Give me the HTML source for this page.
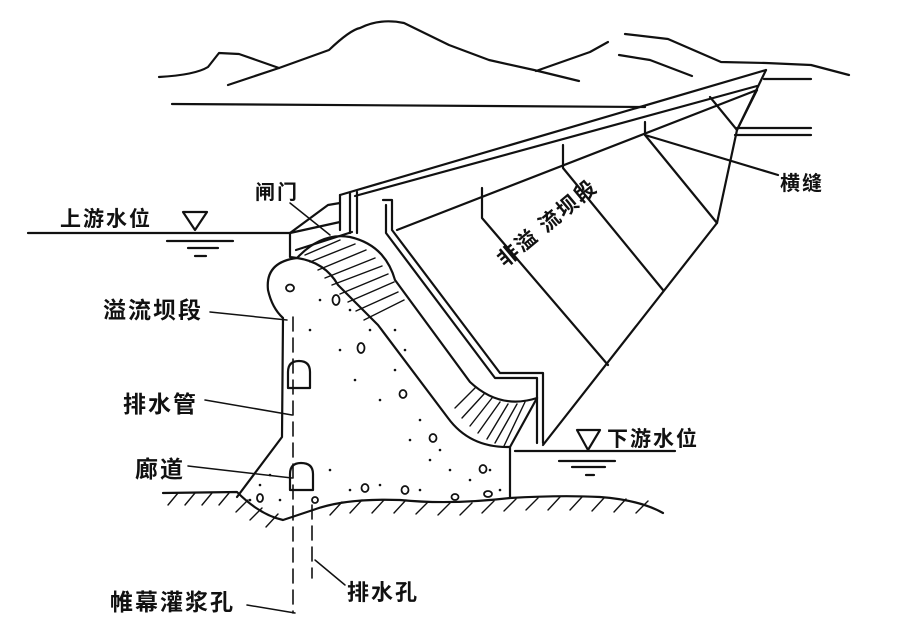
<!DOCTYPE html>
<html><head><meta charset="utf-8"><style>
html,body{margin:0;padding:0;background:#fff;}
svg{display:block}
text{font-family:"Liberation Sans","Noto Sans CJK SC",sans-serif;font-weight:bold;fill:#111;letter-spacing:2px}
</style></head><body>
<svg width="918" height="633" viewBox="0 0 918 633" xmlns="http://www.w3.org/2000/svg">
<g fill="none" stroke="#111" stroke-width="2.2" stroke-linecap="round" stroke-linejoin="round">
<path d="M159 77 Q195 75 208 67 L219 53 L239 54 L279 68"/>
<path d="M228 85 L279 68 L329 50 Q350 30 360 28 Q380 18 404 23 L449 45 L489 60 L534 70 L579 81"/>
<path d="M536 71 L590 52 L608 42"/>
<path d="M625 34 L668 39 L721 62 L766 63 L811 65 L849 75"/>
<path d="M619 55 L650 60 L692 76"/>
<path d="M172 104 L645 107"/>
<path d="M764 79 L811 79 M737 128 L811 128 M735 135 L811 135"/>
<path d="M340 195 L766 70"/>
<path d="M355 196 L757 86"/>
<path d="M397 230 L757 90"/>
<path d="M766 70 L737 130 L717 223 L543 445"/>
<path d="M757 90 L737 130"/>
<path d="M482 188 L482 218 L608 365"/>
<path d="M563 145 L563 168 L663 290"/>
<path d="M645 122 L645 135 L717 223"/>
<path d="M710 97 L737 130"/>
<path d="M645 135 L778 175"/>
<path d="M340 195 L340 230 M350 193 L350 233 M357 192 L357 233"/>
<path d="M383 200 L392 200 L392 230 L500 373 L543 373 L543 443"/>
<path d="M386 205 L386 233 L495 378 L537 378 L537 443"/>
<path d="M290 233 L290 257 L297 258"/>
<path d="M290 233 L340 222 M296 250 L352 232 M290 233 L328 205 L340 203"/>
<path d="M298 257 Q322 232 350 237 Q385 245 395 280 L470 382 Q500 410 537 398"/>
<path d="M297 258 Q325 262 338 285 L378 325 L448 418 Q470 448 510 447 L537 398"/>
<path d="M297 258 Q265 262 268 290 Q272 308 283 318 L282 437 L237 497"/>
<path d="M510 447 L510 497"/>
<g stroke-width="1.4">
<path d="M305 255 L340 240 M310 262 L355 244 M318 270 L366 250 M325 278 L375 258 M332 285 L382 266 M340 294 L388 274 M348 302 L394 282 M356 311 L398 292 M364 320 L404 300"/>
<path d="M455 408 L475 388 M462 418 L484 394 M470 426 L492 398 M478 433 L500 402 M487 439 L508 404 M495 443 L517 404 M504 446 L525 402"/>
</g>
<path d="M288 388 L288 372 Q288 361 299 361 Q310 361 310 372 L310 388 Z"/>
<path d="M290 490 L290 474 Q290 463 301 463 Q313 463 313 474 L313 490 Z"/>
<path d="M163 493 L237 492 Q260 515 283 520 L313 510 Q345 498 400 500 Q450 505 510 498 Q560 495 600 497 Q640 500 663 513"/>
<g stroke-width="1.4">
<path d="M168 505 L178 493 M185 505 L195 493 M202 505 L212 493 M219 505 L229 493 M236 512 L248 500 M250 520 L262 508 M266 527 L278 514 M330 515 L342 502 M350 513 L362 500 M372 513 L384 500 M394 513 L406 500 M416 514 L428 502 M438 515 L450 503 M460 515 L472 503 M482 513 L494 501 M504 511 L516 499 M526 510 L538 498 M548 510 L560 497 M570 510 L582 497 M592 511 L604 498 M614 512 L626 499 M636 513 L648 501"/>
</g>
<path d="M293 317 L293 613" stroke-dasharray="14 7" stroke-width="1.6"/>
<path d="M312 505 L312 578" stroke-dasharray="14 7" stroke-width="1.6"/>
<path d="M28 233 L290 233 M167 241 L233 241 M188 248 L218 248 M195 256 L206 256"/>
<path d="M183 212 L207 212 L195 230 Z"/>
<path d="M515 451 L675 451 M559 461 L615 461 M572 467 L605 467 M586 475 L594 475"/>
<path d="M577 430 L600 430 L588 450 Z"/>
<g stroke-width="1.5">
<path d="M290 203 L330 235"/>
<path d="M210 312 L287 320"/>
<path d="M205 400 L292 415"/>
<path d="M188 466 L292 478"/>
<path d="M247 605 L295 613"/>
<path d="M315 560 L345 585"/>
</g>
</g>
<g fill="#111">
<circle cx="340" cy="350" r="1.3"/><circle cx="355" cy="380" r="1.3"/><circle cx="370" cy="330" r="1.3"/><circle cx="380" cy="400" r="1.3"/><circle cx="395" cy="370" r="1.3"/><circle cx="410" cy="440" r="1.3"/><circle cx="420" cy="420" r="1.3"/><circle cx="430" cy="460" r="1.3"/><circle cx="450" cy="470" r="1.3"/><circle cx="470" cy="480" r="1.3"/><circle cx="330" cy="470" r="1.3"/><circle cx="350" cy="490" r="1.3"/><circle cx="380" cy="485" r="1.3"/><circle cx="420" cy="490" r="1.3"/><circle cx="260" cy="485" r="1.3"/><circle cx="250" cy="500" r="1.3"/><circle cx="320" cy="300" r="1.3"/><circle cx="310" cy="330" r="1.3"/><circle cx="350" cy="310" r="1.3"/><circle cx="395" cy="330" r="1.3"/><circle cx="405" cy="350" r="1.3"/><circle cx="440" cy="450" r="1.3"/><circle cx="490" cy="470" r="1.3"/><circle cx="500" cy="490" r="1.3"/><circle cx="270" cy="475" r="1.3"/><circle cx="280" cy="500" r="1.3"/>
</g>
<g fill="none" stroke="#111" stroke-width="1.8">
<ellipse cx="290" cy="288" rx="4" ry="3.5"/><ellipse cx="336" cy="300" rx="3.5" ry="5"/><ellipse cx="361" cy="348" rx="3.5" ry="5"/><ellipse cx="403" cy="394" rx="3.5" ry="4"/><ellipse cx="433" cy="438" rx="3.5" ry="4"/><ellipse cx="483" cy="469" rx="3.5" ry="4"/><ellipse cx="365" cy="488" rx="3.5" ry="4"/><ellipse cx="405" cy="490" rx="3.5" ry="4"/><ellipse cx="455" cy="497" rx="3.5" ry="3"/><ellipse cx="488" cy="494" rx="4" ry="3"/><ellipse cx="260" cy="498" rx="3" ry="4"/><ellipse cx="315" cy="500" rx="3" ry="3"/>
</g>
<text x="60" y="226" font-size="21">上游水位</text>
<text x="255" y="199" font-size="20">闸门</text>
<text x="780" y="190" font-size="20">横缝</text>
<text x="103" y="318" font-size="23">溢流坝段</text>
<text x="123" y="412" font-size="23">排水管</text>
<text x="135" y="477" font-size="23">廊道</text>
<text x="110" y="610" font-size="23">帷幕灌浆孔</text>
<text x="347" y="600" font-size="22">排水孔</text>
<text x="607" y="446" font-size="21">下游水位</text>
<text x="0" y="0" font-size="21" transform="translate(505 268) rotate(-40)">非溢 流坝段</text>
</svg>
</body></html>
